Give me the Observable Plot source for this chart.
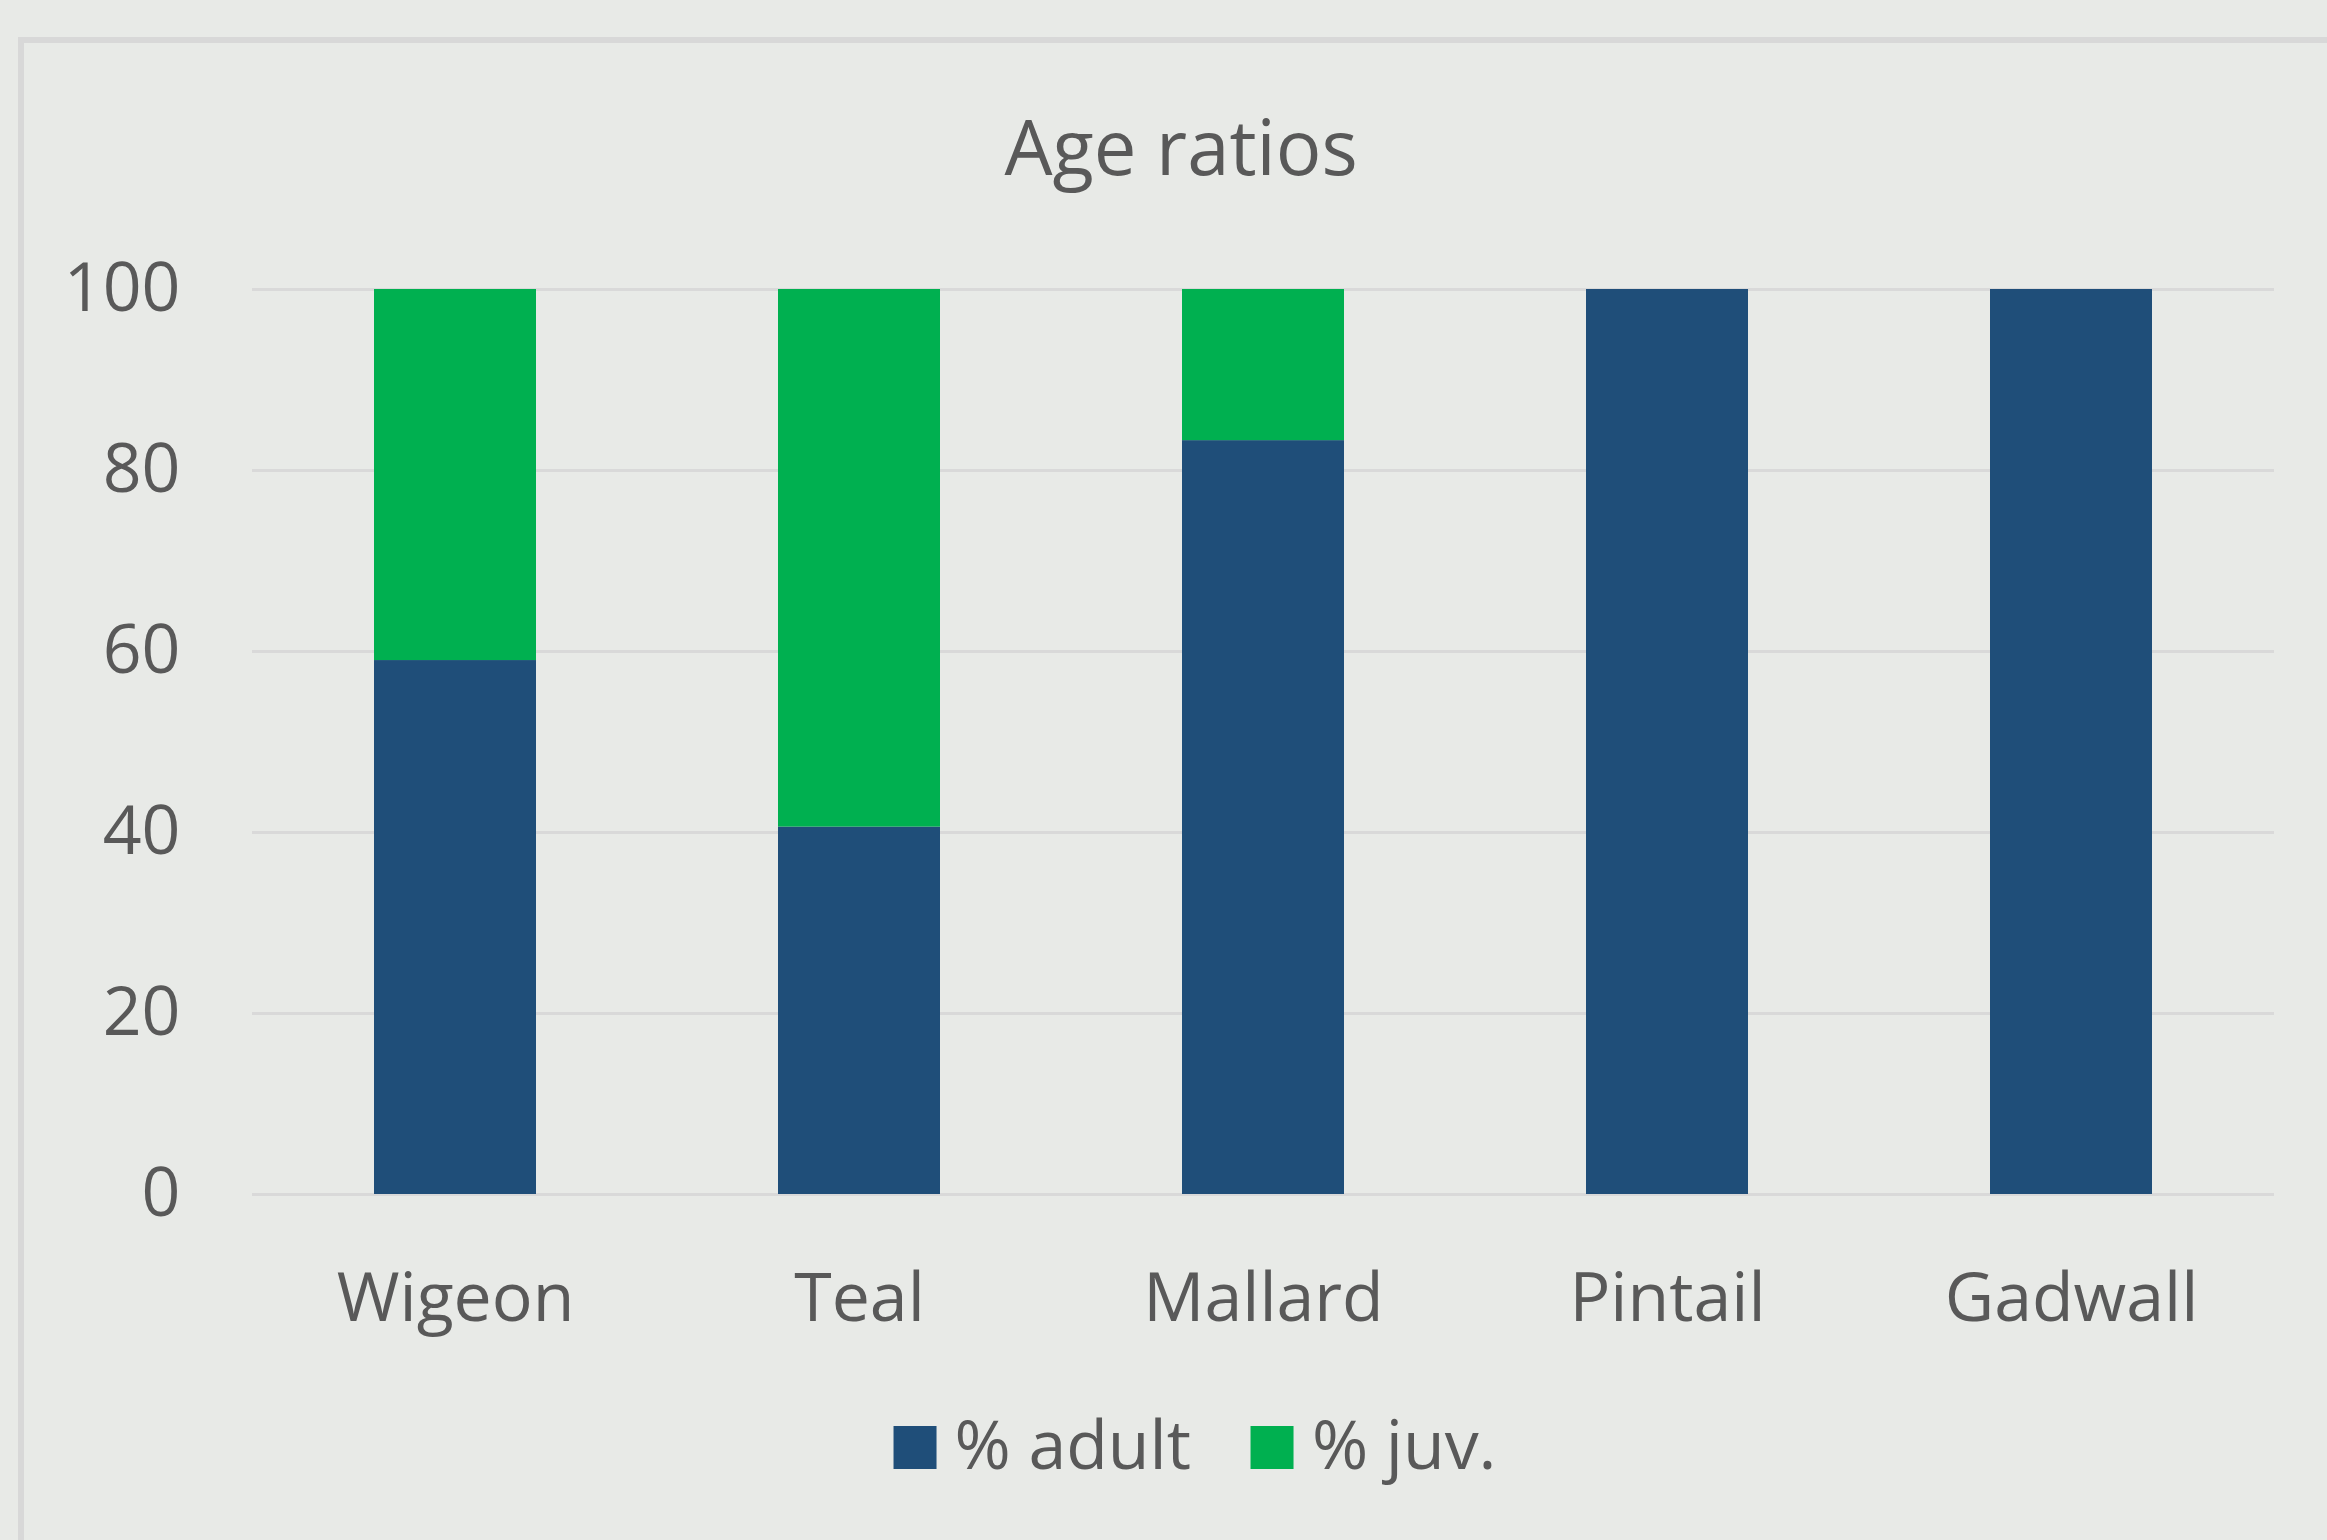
<!DOCTYPE html>
<html><head><meta charset="utf-8">
<script src="https://cdn.jsdelivr.net/npm/d3@7"></script>
<script src="https://cdn.jsdelivr.net/npm/@observablehq/plot@0.6"></script>
<style>
html,body{margin:0;padding:0;background:#e8eae7;overflow:hidden;}
#wrap{position:relative;width:2327px;height:1540px;font-family:"Open Sans",sans-serif;color:#595959;overflow:hidden;}
#frame{position:absolute;left:18px;top:37px;width:2400px;height:1600px;border-top:6px solid #d8d8d8;border-left:6px solid #d8d8d8;box-sizing:border-box;}
#title{height:230px;position:relative;}
#title span{position:absolute;left:1181px;transform:translateX(-50%);top:108px;font-size:76px;white-space:nowrap;line-height:1;}
#chart{position:relative;height:1140px;}
#chart svg{display:block;}
#legend{position:relative;height:170px;}
#legend .inner{position:absolute;left:1195px;transform:translateX(-50%);top:39px;font-size:68px;line-height:1;white-space:nowrap;}
#legend .item{display:inline-block;margin:0 30px;}
#legend .sw{display:inline-block;width:43px;height:43px;margin-right:18px;vertical-align:baseline;}
</style>
</head>
<body>
<div id="wrap">
  <div id="frame"></div>
  <div id="title"><span>Age ratios</span></div>
  <div id="chart"></div>
  <div id="legend"><div class="inner"></div></div>
</div>
<script>
const categories = ["Wigeon", "Teal", "Mallard", "Pintail", "Gadwall"];
const seriesNames = ["% adult", "% juv."];
const adult = [59, 40.6, 83.3, 100, 100];
const juv = [41, 59.4, 16.7, 0, 0];
const seriesColors = ["#1f4e79", "#00b050"];
const yTicks = [0, 20, 40, 60, 80, 100];

const rows = [];
categories.forEach((c, i) => {
  rows.push({cat: c, series: seriesNames[0], value: adult[i]});
  rows.push({cat: c, series: seriesNames[1], value: juv[i]});
});

const chart = Plot.plot({
  width: 2327,
  height: 1140,
  marginTop: 59,
  marginBottom: 176,
  marginLeft: 252,
  marginRight: 53,
  style: {background: "transparent", color: "#595959", fontFamily: "'Open Sans', sans-serif", fontSize: "68px", overflow: "visible"},
  x: {domain: categories, paddingInner: 0.6, paddingOuter: 0.3, label: null, tickSize: 0, tickPadding: 78},
  y: {domain: [0, 100], ticks: yTicks, label: null, tickSize: 0, tickPadding: 72},
  color: {domain: seriesNames, range: seriesColors},
  marks: [
    Plot.ruleY(yTicks, {stroke: "#d9d9d9", strokeWidth: 3}),
    Plot.barY(rows, {x: "cat", y: "value", fill: "series"})
  ]
});
document.getElementById("chart").appendChild(chart);

const inner = document.querySelector("#legend .inner");
seriesNames.forEach((s, i) => {
  const item = document.createElement("span");
  item.className = "item";
  const sw = document.createElement("span");
  sw.className = "sw";
  sw.style.background = seriesColors[i];
  item.appendChild(sw);
  item.appendChild(document.createTextNode(s));
  inner.appendChild(item);
});
</script>
</body></html>
